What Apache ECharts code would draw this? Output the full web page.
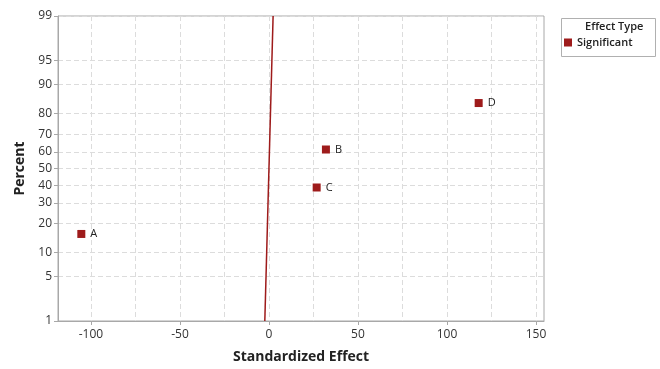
<!DOCTYPE html>
<html>
<head>
<meta charset="utf-8">
<script src="https://cdn.jsdelivr.net/npm/echarts@6/dist/echarts.min.js"></script>
<style>
  html, body { margin: 0; padding: 0; background: #fff; }
  #chart { width: 660px; height: 369px; }
</style>
</head>
<body>
<div id="chart"></div>
<script>
// effects
const effectNames = ["A", "B", "C", "D"];
const effectValues = [-105.4, 32.0, 26.8, 117.8];
const effectPercents = [15.9, 61.4, 38.6, 84.1];

// reference line end points (effect, percent)
const refLineX = [-2.33, 2.33];
const refLineP = [1, 99];

const percentTicks = [1, 5, 10, 20, 30, 40, 50, 60, 70, 80, 90, 95, 99];
const xLabelTicks = [-100, -50, 0, 50, 100, 150];
const xGridTicks = [-100, -75, -50, -25, 0, 25, 50, 75, 100, 125, 150];

const red = "#9e1b1b";
const font = "'Open Sans', 'DejaVu Sans', sans-serif";

// inverse normal cdf (Acklam)
function normInv(p) {
  const a = [-39.69683028665376, 220.9460984245205, -275.9285104469687, 138.3577518672690, -30.66479806614716, 2.506628277459239];
  const b = [-54.47609879822406, 161.5858368580409, -155.6989798598866, 66.80131188771972, -13.28068155288572];
  const c = [-0.007784894002430293, -0.3223964580411365, -2.400758277161838, -2.549732539343734, 4.374664141464968, 2.938163982698783];
  const d = [0.007784695709041462, 0.3224671290700398, 2.445134137142996, 3.754408661907416];
  const pl = 0.02425;
  let q, r;
  if (p < pl) {
    q = Math.sqrt(-2 * Math.log(p));
    return (((((c[0]*q+c[1])*q+c[2])*q+c[3])*q+c[4])*q+c[5]) / ((((d[0]*q+d[1])*q+d[2])*q+d[3])*q+1);
  }
  if (p <= 1 - pl) {
    q = p - 0.5; r = q * q;
    return (((((a[0]*r+a[1])*r+a[2])*r+a[3])*r+a[4])*r+a[5])*q / (((((b[0]*r+b[1])*r+b[2])*r+b[3])*r+b[4])*r+1);
  }
  q = Math.sqrt(-2 * Math.log(1 - p));
  return -(((((c[0]*q+c[1])*q+c[2])*q+c[3])*q+c[4])*q+c[5]) / ((((d[0]*q+d[1])*q+d[2])*q+d[3])*q+1);
}
const z = (pct) => normInv(pct / 100);
const yTickZ = percentTicks.map(z);

function labelFor(v) {
  let best = 0;
  yTickZ.forEach((t, i) => { if (Math.abs(t - v) < Math.abs(yTickZ[best] - v)) best = i; });
  return String(percentTicks[best]);
}

const chart = echarts.init(document.getElementById("chart"));
chart.setOption({
  animation: false,
  grid: {
    left: 58, right: 116, top: 16, bottom: 47,
    show: true, borderColor: "#a8a8a8", borderWidth: 1
  },
  xAxis: [{
    type: "value",
    min: -118.5, max: 154.5,
    name: "Standardized Effect",
    nameLocation: "middle",
    nameGap: 29,
    nameTextStyle: { fontFamily: font, fontSize: 14, fontWeight: "bold", color: "#222" },
    axisLine: { show: true, onZero: false, lineStyle: { color: "#a8a8a8" } },
    axisTick: { show: true, length: 4, customValues: xLabelTicks, lineStyle: { color: "#a8a8a8" } },
    axisLabel: { customValues: xLabelTicks, fontFamily: font, fontSize: 12, color: "#333", margin: 8 },
    splitLine: { show: false }
  }, {
    type: "value",
    min: -118.5, max: 154.5,
    position: "bottom",
    axisLine: { show: false, onZero: false },
    axisTick: { show: false, customValues: xGridTicks },
    axisLabel: { show: false },
    splitLine: { show: true, lineStyle: { color: "#dcdcdc", type: [5, 3] } }
  }],
  yAxis: {
    type: "value",
    min: z(1), max: z(99),
    name: "Percent",
    nameLocation: "middle",
    nameGap: 31,
    nameTextStyle: { fontFamily: font, fontSize: 14, fontWeight: "bold", color: "#222" },
    axisLine: { show: true, onZero: false, lineStyle: { color: "#a8a8a8" } },
    axisTick: { show: true, length: 4, customValues: yTickZ, lineStyle: { color: "#a8a8a8" } },
    axisLabel: { customValues: yTickZ, formatter: labelFor, fontFamily: font, fontSize: 12, color: "#333", margin: 6 },
    splitLine: { show: true, lineStyle: { color: "#dcdcdc", type: [5, 3] } }
  },
  legend: {
    data: [{ name: "Significant", icon: "rect" }],
    left: 564, top: 37,
    itemWidth: 8, itemHeight: 8, itemGap: 6,
    padding: 0,
    textStyle: { fontFamily: font, fontSize: 11, fontWeight: 600, color: "#222" }
  },
  graphic: [
    { type: "rect", left: 559, top: 16, shape: { width: 94, height: 38 },
      style: { fill: "none", stroke: "#b0b0b0", lineWidth: 1 } },
    { type: "text", left: 585, top: 21,
      style: { text: "Effect Type", font: "600 11px " + font, fill: "#222" } }
  ],
  series: [{
    type: "line",
    xAxisIndex: 0,
    data: refLineX.map((x, i) => [x, z(refLineP[i])]),
    showSymbol: false,
    silent: true,
    lineStyle: { color: red, width: 1.5 }
  }, {
    name: "Significant",
    type: "scatter",
    xAxisIndex: 0,
    symbol: "rect",
    symbolSize: 8,
    itemStyle: { color: red, opacity: 1 },
    data: effectValues.map((v, i) => ({ value: [v, z(effectPercents[i])], name: effectNames[i] })),
    label: {
      show: true, position: "right", distance: 5,
      formatter: (p) => p.name,
      fontFamily: font, fontSize: 11, color: "#222"
    }
  }]
});
</script>
</body>
</html>
